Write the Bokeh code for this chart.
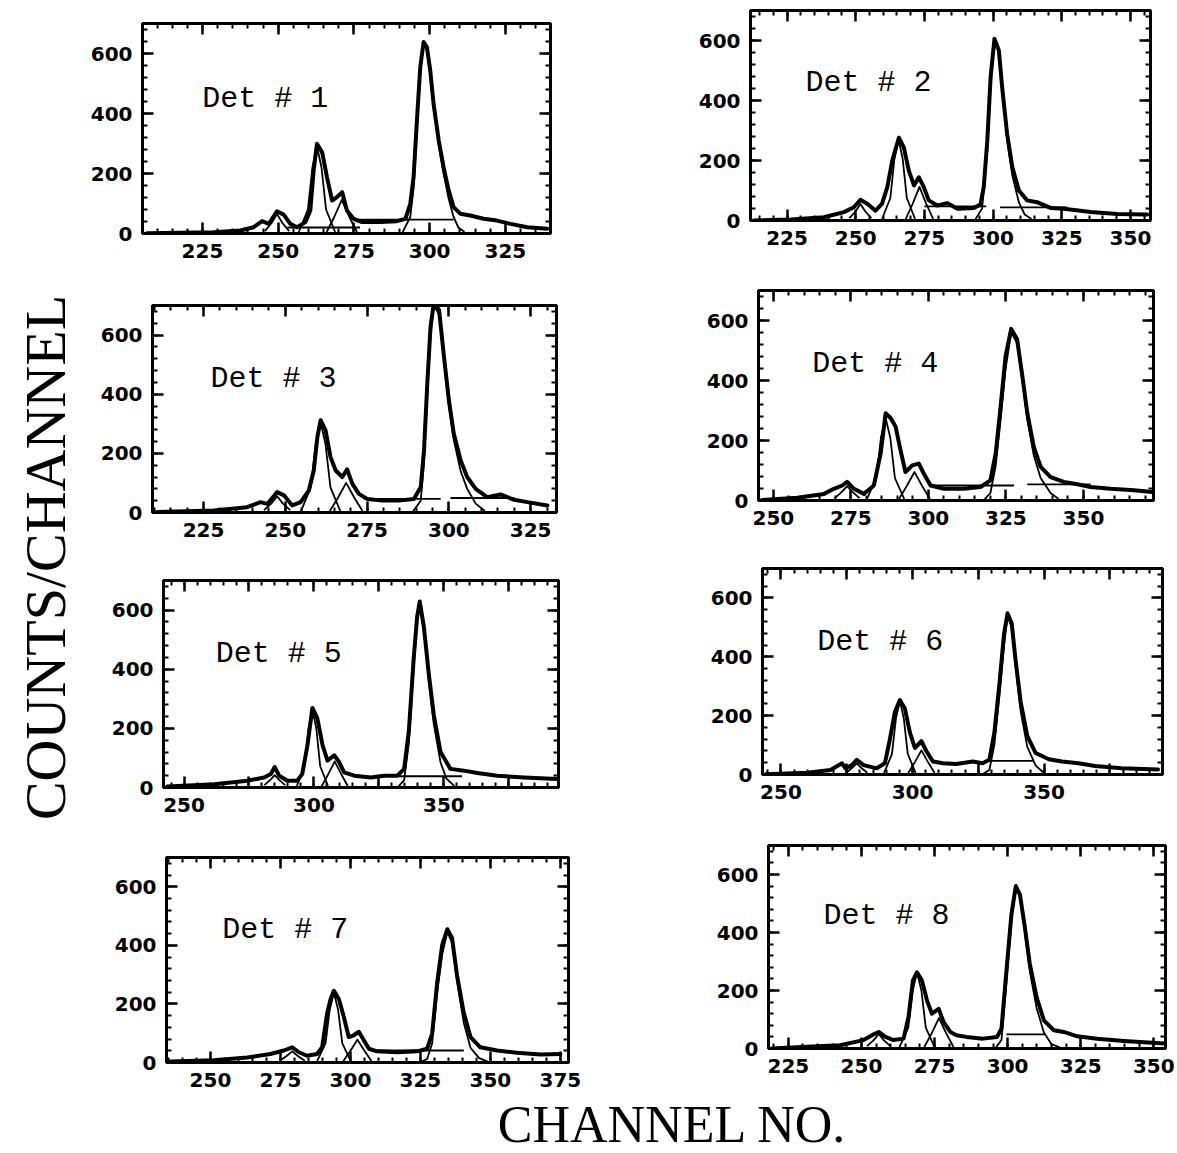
import math
from bokeh.plotting import figure
from bokeh.models import Label, LinearAxis, SingleIntervalTicker, Range1d, CustomJSTickFormatter
from bokeh.layouts import row, column
from bokeh.embed import file_html
from bokeh.resources import INLINE

# ---------------- data ----------------
DET1_CH = [206.7, 228.7, 237.5, 241.9, 244.7, 246.9, 249.6, 251.8, 254.0, 256.2, 259.0, 260.6, 261.7, 262.8, 264.5, 266.1, 267.8, 269.4, 271.1, 272.7, 274.9, 277.7, 283.7, 289.2, 292.0, 293.6, 294.7, 295.8, 296.9, 298.0, 299.1, 300.2, 301.3, 303.0, 304.6, 306.3, 307.9, 310.1, 313.4, 317.8, 322.2, 326.7, 332.2, 338.8]
DET1_COUNTS = [1, 4, 10, 21, 41, 32, 74, 63, 32, 21, 38, 77, 210, 299, 271, 188, 110, 121, 138, 77, 49, 38, 38, 41, 49, 99, 188, 377, 554, 638, 621, 543, 432, 310, 221, 143, 88, 66, 60, 49, 43, 32, 21, 16]
DET1_FIT_CH = [[245.6, 247.8, 249.6, 251.4, 253.6], [256.8, 259.8, 261.3, 262.8, 264.3, 265.8, 268.8], [266.0, 268.5, 271.0, 273.5, 276.0],
               [291.0, 293.6, 294.7, 295.8, 296.9, 298.0, 299.1, 300.2, 301.3, 303.0, 304.6, 306.3, 307.9, 309.5, 311.5]]
DET1_FIT_COUNTS = [[8, 35, 65, 35, 8], [5, 80, 220, 290, 220, 80, 5], [5, 55, 112, 55, 5],
                   [3, 55, 150, 350, 540, 630, 615, 535, 420, 295, 200, 115, 55, 20, 5]]
DET1_BG_CH = [[276.0, 307.9], [253.0, 277.0]]
DET1_BG_COUNTS = [[46, 46], [20, 20]]

DET2_CH = [212.9, 226.3, 238.4, 245.7, 249.3, 251.7, 254.2, 257.2, 259.6, 261.5, 263.3, 265.7, 267.5, 269.3, 271.2, 273.0, 274.8, 276.6, 279.7, 283.3, 287.0, 293.0, 295.4, 296.6, 297.9, 299.1, 300.5, 302.1, 303.3, 305.1, 307.0, 309.4, 312.4, 316.0, 320.9, 325.8, 335.5, 345.2, 356.1]
DET2_COUNTS = [0, 3, 11, 28, 44, 69, 56, 33, 56, 111, 200, 276, 244, 167, 117, 144, 111, 67, 50, 58, 39, 42, 53, 111, 267, 478, 606, 567, 444, 289, 178, 100, 67, 61, 42, 39, 28, 22, 20]
DET2_FIT_CH = [[247.7, 249.9, 251.7, 253.5, 255.7], [259.6, 262.6, 264.1, 265.6, 267.1, 268.6, 271.6], [268.2, 270.7, 273.2, 275.7, 278.2],
               [293.5, 296.0, 297.9, 299.1, 300.5, 302.1, 303.3, 305.1, 307.0, 309.4, 311.5, 314.0]]
DET2_FIT_COUNTS = [[8, 30, 55, 30, 8], [5, 75, 205, 272, 205, 75, 5], [5, 55, 112, 55, 5],
                   [3, 40, 230, 455, 600, 560, 435, 270, 150, 60, 20, 5]]
DET2_BG_CH = [[275.0, 297.5], [302.5, 327.0]]
DET2_BG_COUNTS = [[47, 47], [44, 44]]

DET3_CH = [210.8, 228.2, 238.3, 242.4, 244.5, 247.5, 249.6, 252.1, 254.7, 257.2, 258.7, 259.8, 260.8, 262.3, 263.8, 265.4, 267.4, 268.9, 270.5, 272.5, 275.0, 279.1, 285.2, 289.3, 291.4, 292.4, 293.4, 294.4, 295.4, 297.0, 298.5, 300.0, 301.5, 303.6, 305.6, 308.2, 311.7, 315.8, 319.9, 324.0, 330.1]
DET3_COUNTS = [2, 7, 18, 35, 29, 69, 58, 24, 35, 75, 142, 255, 312, 278, 188, 142, 120, 146, 97, 63, 46, 41, 41, 46, 86, 210, 436, 629, 707, 685, 527, 380, 267, 176, 120, 80, 52, 61, 43, 35, 24]
DET3_FIT_CH = [[243.5, 245.7, 247.5, 249.3, 251.5], [254.8, 257.8, 259.3, 260.8, 262.3, 263.8, 266.8], [263.6, 266.1, 268.6, 271.1, 273.6],
               [289.0, 291.4, 292.4, 293.4, 294.4, 295.4, 297.0, 298.5, 300.0, 301.5, 303.6, 305.6, 308.2, 311.0]]
DET3_FIT_COUNTS = [[8, 30, 55, 30, 8], [5, 85, 230, 305, 230, 85, 5], [5, 50, 100, 50, 5],
                   [3, 40, 170, 400, 600, 700, 670, 510, 360, 245, 140, 80, 30, 5]]
DET3_BG_CH = [[274.0, 297.5], [300.5, 320.0]]
DET3_BG_COUNTS = [[46, 46], [49, 49]]

DET4_CH = [246.4, 257.7, 266.3, 269.5, 272.2, 273.8, 276.0, 279.2, 282.4, 284.6, 286.2, 287.8, 289.4, 291.0, 292.6, 294.8, 296.9, 298.5, 300.7, 305.0, 311.4, 316.8, 320.0, 321.7, 323.3, 324.9, 326.7, 328.6, 330.3, 331.9, 334.0, 336.2, 339.4, 343.7, 348.0, 352.3, 358.8, 366.3, 372.2]
DET4_COUNTS = [2, 9, 22, 39, 50, 62, 39, 22, 50, 157, 291, 275, 247, 168, 95, 117, 123, 90, 50, 39, 39, 45, 67, 157, 314, 482, 572, 538, 415, 291, 179, 112, 78, 62, 54, 45, 39, 34, 28]
DET4_FIT_CH = [[269.8, 272.0, 273.8, 275.6, 277.8], [280.2, 283.2, 284.7, 286.2, 287.7, 289.2, 292.2], [290.5, 293.0, 295.5, 298.0, 300.5],
               [318.0, 320.0, 321.7, 323.3, 324.9, 326.7, 328.6, 330.3, 331.9, 334.0, 336.2, 339.4, 342.0]]
DET4_FIT_COUNTS = [[8, 28, 48, 28, 8], [5, 75, 210, 275, 210, 75, 5], [5, 48, 95, 48, 5],
                   [3, 25, 115, 270, 440, 560, 525, 400, 270, 150, 75, 25, 5]]
DET4_BG_CH = [[300.7, 327.6], [331.9, 352.3]]
DET4_BG_COUNTS = [[50, 50], [54, 54]]

DET5_CH = [243.6, 261.6, 274.4, 280.8, 283.4, 284.9, 286.6, 289.8, 293.6, 295.5, 297.5, 299.4, 301.3, 303.3, 305.2, 307.8, 309.7, 311.6, 315.5, 321.9, 327.0, 332.1, 334.7, 336.5, 338.4, 339.7, 340.7, 342.3, 344.2, 346.1, 348.7, 352.5, 357.7, 362.9, 370.5, 380.8, 393.6]
DET5_COUNTS = [3, 11, 23, 34, 46, 69, 40, 23, 23, 46, 143, 269, 234, 143, 91, 109, 86, 51, 40, 34, 40, 40, 63, 189, 440, 577, 629, 543, 383, 246, 120, 63, 57, 49, 40, 34, 29]
DET5_FIT_CH = [[280.9, 283.1, 284.9, 286.7, 288.9], [293.4, 296.4, 297.9, 299.4, 300.9, 302.4, 305.4], [303.0, 305.5, 308.0, 310.5, 313.0],
               [332.5, 334.7, 336.5, 338.4, 339.7, 340.7, 342.3, 344.2, 346.1, 348.7, 351.0, 354.0]]
DET5_FIT_COUNTS = [[8, 25, 42, 25, 8], [5, 72, 200, 262, 200, 72, 5], [5, 45, 88, 45, 5],
                   [3, 25, 150, 410, 560, 620, 530, 360, 215, 85, 30, 5]]
DET5_BG_CH = [[332.0, 357.0]]
DET5_BG_COUNTS = [[38, 38]]

DET6_CH = [244.3, 260.0, 268.8, 273.2, 274.5, 277.0, 278.8, 281.4, 286.4, 289.5, 291.4, 293.3, 295.2, 297.1, 299.0, 300.9, 303.4, 305.3, 307.8, 311.6, 316.6, 322.9, 326.6, 329.2, 331.1, 333.0, 334.8, 336.1, 337.7, 339.2, 341.1, 343.6, 346.8, 351.8, 356.8, 363.1, 369.4, 379.5, 393.3]
DET6_COUNTS = [1, 6, 15, 38, 21, 32, 50, 32, 21, 38, 119, 212, 253, 224, 143, 90, 113, 79, 44, 38, 36, 44, 38, 50, 142, 305, 479, 548, 513, 386, 247, 131, 73, 52, 44, 38, 29, 21, 17]
DET6_FIT_CH = [[274.8, 277.0, 278.8, 280.6, 282.8], [289.2, 292.2, 293.7, 295.2, 296.7, 298.2, 301.2], [298.4, 300.9, 303.4, 305.9, 308.4],
               [327.0, 329.2, 331.1, 333.0, 334.8, 336.1, 337.7, 339.2, 341.1, 343.6, 346.8, 350.0]]
DET6_FIT_COUNTS = [[6, 22, 38, 22, 6], [5, 70, 190, 250, 190, 70, 5], [5, 42, 82, 42, 5],
                   [3, 15, 100, 265, 440, 540, 500, 365, 215, 95, 30, 5]]
DET6_BG_CH = [[329.2, 346.0]]
DET6_BG_COUNTS = [[46, 46]]

DET7_CH = [235.7, 251.2, 263.1, 271.4, 276.2, 279.2, 281.6, 284.5, 288.1, 289.9, 291.7, 292.9, 294.1, 295.9, 297.6, 299.4, 301.2, 303.0, 304.8, 306.6, 309.5, 316.7, 323.8, 327.4, 329.2, 331.0, 332.8, 334.6, 336.3, 338.1, 340.5, 342.9, 346.4, 352.4, 359.5, 367.9, 375.0]
DET7_COUNTS = [3, 8, 17, 29, 41, 52, 35, 23, 29, 52, 169, 216, 245, 216, 157, 87, 93, 105, 76, 47, 38, 35, 38, 47, 99, 274, 402, 455, 425, 297, 169, 87, 52, 41, 33, 27, 29]
DET7_FIT_CH = [[274.7, 277.2, 279.2, 281.2, 283.7], [288.1, 291.1, 292.6, 294.1, 295.6, 297.1, 300.1], [297.5, 300.0, 302.5, 305.0, 307.5],
               [325.5, 327.4, 329.2, 331.0, 332.8, 334.6, 336.3, 338.1, 340.5, 342.9, 346.0, 349.0]]
DET7_FIT_COUNTS = [[6, 22, 38, 22, 6], [5, 65, 180, 238, 180, 65, 5], [5, 40, 78, 40, 5],
                   [3, 12, 65, 240, 370, 445, 410, 275, 135, 50, 15, 3]]
DET7_BG_CH = [[309.5, 340.5]]
DET7_BG_COUNTS = [[41, 41]]

DET8_CH = [219.3, 231.3, 242.7, 250.7, 253.6, 255.9, 258.2, 261.0, 264.4, 266.1, 267.6, 269.0, 270.7, 272.4, 274.1, 276.4, 278.1, 280.4, 282.5, 285.9, 291.6, 296.4, 297.9, 299.6, 301.3, 302.8, 304.2, 305.9, 307.6, 309.9, 312.4, 315.8, 319.2, 323.8, 330.6, 339.8, 353.5]
DET8_COUNTS = [0, 6, 11, 29, 46, 57, 40, 29, 34, 109, 234, 263, 234, 166, 120, 137, 91, 57, 46, 40, 34, 40, 69, 269, 463, 560, 531, 417, 291, 177, 97, 63, 57, 42, 34, 26, 17]
DET8_FIT_CH = [[251.9, 254.1, 255.9, 257.7, 259.9], [263.0, 266.0, 267.5, 269.0, 270.5, 272.0, 275.0], [271.5, 274.0, 276.5, 279.0, 281.5],
               [296.0, 297.9, 299.6, 301.3, 302.8, 304.2, 305.9, 307.6, 309.9, 312.4, 315.0, 318.0]]
DET8_FIT_COUNTS = [[8, 28, 50, 28, 8], [5, 72, 200, 262, 200, 72, 5], [5, 52, 105, 52, 5],
                   [3, 30, 230, 440, 555, 525, 400, 265, 140, 55, 15, 3]]
DET8_BG_CH = [[299.6, 313.0]]
DET8_BG_COUNTS = [[49, 49]]

DET_NAMES = ["Det # 1", "Det # 2", "Det # 3", "Det # 4", "Det # 5", "Det # 6", "Det # 7", "Det # 8"]
Y_TICK_STEP = 200
X_TICK_STEP = 25
Y_AXIS_TITLE = "COUNTS/CHANNEL"
X_AXIS_TITLE = "CHANNEL NO."

# ---------------- layout / style ----------------
X_RANGES = [(205.2, 339.9), (211.7, 357.3), (209.4, 332.9), (245.2, 372.6),
            (242.1, 394.1), (243.0, 395.0), (234.3, 377.9), (218.2, 354.0)]
ROW_H = [271, 280, 275, 269]
COL_W = [520, 577]
BOTTOM_H = 58
BORDERS = [(62, 50, 23, 38), (150, 27, 10, 51), (72, 44, 34, 39), (158, 24, 19, 51),
           (83, 42, 29, 39), (162, 15, 17, 52), (86, 32, 31, 33), (168, 12, 19, 47)]
LABEL_POS = [(224.9, 450), (231.7, 457), (227.1, 452), (262.5, 456),
             (262.2, 452), (263.8, 450), (254.2, 452), (237.0, 456)]
SPARSE_LABELS = [False, False, False, False, True, True, False, False]

DATA = [
    (DET1_CH, DET1_COUNTS, DET1_FIT_CH, DET1_FIT_COUNTS, DET1_BG_CH, DET1_BG_COUNTS),
    (DET2_CH, DET2_COUNTS, DET2_FIT_CH, DET2_FIT_COUNTS, DET2_BG_CH, DET2_BG_COUNTS),
    (DET3_CH, DET3_COUNTS, DET3_FIT_CH, DET3_FIT_COUNTS, DET3_BG_CH, DET3_BG_COUNTS),
    (DET4_CH, DET4_COUNTS, DET4_FIT_CH, DET4_FIT_COUNTS, DET4_BG_CH, DET4_BG_COUNTS),
    (DET5_CH, DET5_COUNTS, DET5_FIT_CH, DET5_FIT_COUNTS, DET5_BG_CH, DET5_BG_COUNTS),
    (DET6_CH, DET6_COUNTS, DET6_FIT_CH, DET6_FIT_COUNTS, DET6_BG_CH, DET6_BG_COUNTS),
    (DET7_CH, DET7_COUNTS, DET7_FIT_CH, DET7_FIT_COUNTS, DET7_BG_CH, DET7_BG_COUNTS),
    (DET8_CH, DET8_COUNTS, DET8_FIT_CH, DET8_FIT_COUNTS, DET8_BG_CH, DET8_BG_COUNTS),
]

TICK_FONT = "DejaVu Sans"


def style_axis(ax, show_labels):
    ax.axis_line_width = 3
    ax.axis_line_color = "black"
    ax.major_tick_in = 11
    ax.major_tick_out = 0
    ax.minor_tick_in = 5
    ax.minor_tick_out = 0
    ax.major_tick_line_width = 2.5
    ax.minor_tick_line_width = 2
    ax.major_tick_line_color = "black"
    ax.minor_tick_line_color = "black"
    if show_labels:
        ax.major_label_text_font = TICK_FONT
        ax.major_label_text_font_style = "bold"
        ax.major_label_text_font_size = "20px"
        ax.major_label_text_color = "black"
        ax.major_label_standoff = 10
    else:
        ax.formatter = CustomJSTickFormatter(code="return ''")
        ax.major_label_standoff = 0


def make_panel(i, w, h):
    ch, counts, fch, fcounts, bch, bcounts = DATA[i]
    left, right, top, bottom = BORDERS[i]
    p = figure(width=w, height=h, x_range=Range1d(*X_RANGES[i]), y_range=Range1d(0, 700),
               output_backend="svg", toolbar_location=None,
               min_border_left=left, min_border_right=right,
               min_border_top=top, min_border_bottom=bottom,
               x_axis_location=None, y_axis_location=None)
    p.grid.visible = False
    p.outline_line_color = "black"
    p.outline_line_width = 3
    p.background_fill_color = "white"
    p.border_fill_color = "white"

    for loc in ("below", "above"):
        ax = LinearAxis(ticker=SingleIntervalTicker(interval=X_TICK_STEP, num_minor_ticks=5))
        style_axis(ax, loc == "below")
        if loc == "below" and SPARSE_LABELS[i]:
            ax.major_label_overrides = {275: "", 325: "", 375: ""}
        p.add_layout(ax, loc)
    for loc in ("left", "right"):
        ax = LinearAxis(ticker=SingleIntervalTicker(interval=Y_TICK_STEP, num_minor_ticks=5))
        style_axis(ax, loc == "left")
        p.add_layout(ax, loc)

    for xs, ys in zip(bch, bcounts):
        p.line(xs, ys, line_color="black", line_width=1.8)
    for xs, ys in zip(fch, fcounts):
        p.line(xs, ys, line_color="black", line_width=1.8, line_join="round")
    p.line(ch, counts, line_color="black", line_width=4, line_join="round", line_cap="round")

    lx, ly = LABEL_POS[i]
    p.add_layout(Label(x=lx, y=ly, text=DET_NAMES[i], text_font="Liberation Mono",
                       text_font_size="30px", text_color="black", text_baseline="alphabetic"))
    return p


panels = []
for i in range(8):
    r, c = divmod(i, 2)
    # wrap each panel in its own column so that Bokeh does not align frames within a row
    panels.append(column(make_panel(i, COL_W[c], ROW_H[r])))

left_fig = figure(width=80, height=1153, x_range=Range1d(0, 80), y_range=Range1d(0, 1153),
                  output_backend="svg", toolbar_location=None, min_border=0,
                  x_axis_location=None, y_axis_location=None)
left_fig.grid.visible = False
left_fig.outline_line_color = None
left_fig.add_layout(Label(x=45, y=1153 - 557, text=Y_AXIS_TITLE, angle=math.pi / 2,
                          text_align="center", text_baseline="middle",
                          text_font="Liberation Serif", text_font_size="58px", text_color="black"))

bottom_fig = figure(width=1097, height=BOTTOM_H, x_range=Range1d(80, 1177), y_range=Range1d(0, BOTTOM_H),
                    output_backend="svg", toolbar_location=None, min_border=0,
                    x_axis_location=None, y_axis_location=None)
bottom_fig.grid.visible = False
bottom_fig.outline_line_color = None
bottom_fig.add_layout(Label(x=672, y=29, text=X_AXIS_TITLE, text_align="center",
                            text_baseline="middle", text_font="Liberation Serif",
                            text_font_size="52px", text_color="black"))

layout = row(left_fig,
             column(row(panels[0], panels[1]), row(panels[2], panels[3]),
                    row(panels[4], panels[5]), row(panels[6], panels[7]), bottom_fig))

open("out.html", "w").write(file_html(layout, INLINE))
